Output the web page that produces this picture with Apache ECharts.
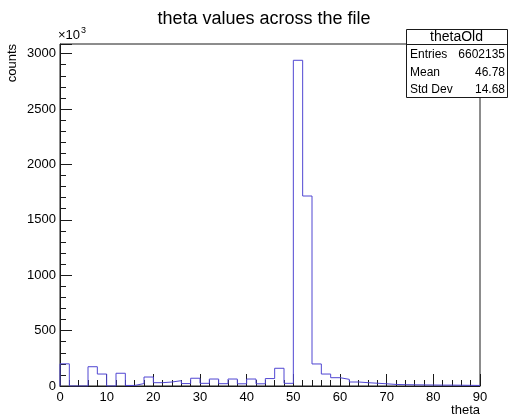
<!DOCTYPE html>
<html>
<head>
<meta charset="utf-8">
<title>theta values across the file</title>
<script src="https://cdn.jsdelivr.net/npm/echarts@6/dist/echarts.min.js"></script>
<style>
  html, body { margin: 0; padding: 0; background: #fff; }
  #chart { width: 508px; height: 418px; }
</style>
</head>
<body>
<div id="chart"></div>
<script>
// Histogram of theta: 45 bins of width 2 from 0 to 90.
const binWidth = 2;
const xMin = 0;
const xMax = 90;
// Bin contents in thousands of counts (axis shows ×10^3).
const countsK = [
  200, 0, 0, 174, 108, 0, 115, 5, 22, 81,
  30, 36, 48, 22, 70, 24, 63, 21, 63, 20,
  63, 20, 67, 160, 24, 2940, 1715, 199, 108, 75,
  60, 36, 30, 25, 20, 14, 12, 11, 10, 9,
  8, 8, 7, 6, 5
];
const yTicks = ['0', '500', '1000', '1500', '2000', '2500', '3000'];
const xTicks = ['0', '10', '20', '30', '40', '50', '60', '70', '80', '90'];
const stats = [
  ['Entries', '6602135'],
  ['Mean', '46.78'],
  ['Std Dev', '14.68']
];
const histName = 'thetaOld';

const yMax = Math.max(...countsK) * 1.05;

// Outline points of the stepped histogram (step: 'end' draws flat then vertical).
const outline = [[xMin, 0]];
countsK.forEach((v, i) => outline.push([xMin + i * binWidth, v]));
outline.push([xMax, countsK[countsK.length - 1]]);
outline.push([xMax, 0]);

const font = '"Liberation Sans", Helvetica, Arial, sans-serif';
const ink = '#1a1a1a';

const chart = echarts.init(document.getElementById('chart'), null, { renderer: 'canvas' });

const box = { x: 406, y: 29, w: 101, h: 68, titleH: 15 };
const statGraphics = [
  {
    type: 'rect', z: 100,
    shape: { x: box.x + 0.5, y: box.y + 0.5, width: box.w, height: box.h },
    style: { fill: '#fff', stroke: ink, lineWidth: 1 }
  },
  {
    type: 'line', z: 101,
    shape: { x1: box.x, y1: box.y + box.titleH + 0.5, x2: box.x + box.w, y2: box.y + box.titleH + 0.5 },
    style: { stroke: ink, lineWidth: 1 }
  },
  {
    type: 'text', z: 101, x: box.x + box.w / 2, y: box.y + 8,
    style: { text: histName, font: '14px ' + font, fill: '#000', align: 'center', verticalAlign: 'middle' }
  }
];
stats.forEach((row, i) => {
  const cy = box.y + 26 + i * 17.5;
  statGraphics.push({
    type: 'text', z: 101, x: box.x + 4, y: cy,
    style: { text: row[0], font: '12px ' + font, fill: '#000', align: 'left', verticalAlign: 'middle' }
  });
  statGraphics.push({
    type: 'text', z: 101, x: box.x + box.w - 2, y: cy,
    style: { text: row[1], font: '12px ' + font, fill: '#000', align: 'right', verticalAlign: 'middle' }
  });
});

chart.setOption({
  animation: false,
  backgroundColor: '#fff',
  title: {
    text: 'theta values across the file',
    left: 259, top: 5, textAlign: 'center',
    textStyle: { fontFamily: font, fontSize: 18, fontWeight: 'normal', color: '#000' }
  },
  grid: {
    left: 60, right: 28, top: 44, bottom: 32,
    show: true, borderColor: ink, borderWidth: 1, backgroundColor: 'transparent'
  },
  xAxis: {
    type: 'value', min: xMin, max: xMax, interval: 10,
    axisLine: { show: true, onZero: false, lineStyle: { color: ink, width: 1 } },
    axisTick: { show: true, inside: true, length: 12, lineStyle: { color: ink } },
    minorTick: { show: true, splitNumber: 5, length: 6, lineStyle: { color: ink } },
    splitLine: { show: false },
    axisLabel: {
      margin: 5, fontFamily: font, fontSize: 13, color: '#000',
      formatter: v => xTicks[Math.round(v / 10)] ?? ''
    }
  },
  yAxis: {
    type: 'value', min: 0, max: yMax, interval: 500,
    axisLine: { show: true, lineStyle: { color: ink, width: 1 } },
    axisTick: { show: true, inside: true, length: 12, lineStyle: { color: ink } },
    minorTick: { show: true, splitNumber: 5, length: 6, lineStyle: { color: ink } },
    splitLine: { show: false },
    axisLabel: {
      margin: 4, fontFamily: font, fontSize: 13, color: '#000',
      showMaxLabel: false,
      formatter: v => yTicks[Math.round(v / 500)] ?? ''
    }
  },
  series: [{
    type: 'line',
    data: outline,
    step: 'end',
    showSymbol: false,
    clip: true,
    lineStyle: { color: '#5046d2', width: 1 },
    silent: true
  }],
  graphic: [
    {
      type: 'text', x: 12, y: 44, rotation: Math.PI / 2,
      style: { text: 'counts', font: '13px ' + font, fill: '#000', align: 'right', verticalAlign: 'middle' }
    },
    {
      type: 'text', x: 480, y: 410,
      style: { text: 'theta', font: '13px ' + font, fill: '#000', align: 'right', verticalAlign: 'middle' }
    },
    {
      type: 'text', x: 58, y: 34,
      style: {
        text: '{a|×10}{b|3}',
        rich: {
          a: { fontSize: 13, fontFamily: font, fill: '#000', lineHeight: 16, verticalAlign: 'bottom' },
          b: { fontSize: 9, fontFamily: font, fill: '#000', lineHeight: 16, verticalAlign: 'top', padding: [0, 0, 0, 1] }
        },
        verticalAlign: 'middle'
      }
    },
    ...statGraphics
  ]
});
</script>
</body>
</html>
